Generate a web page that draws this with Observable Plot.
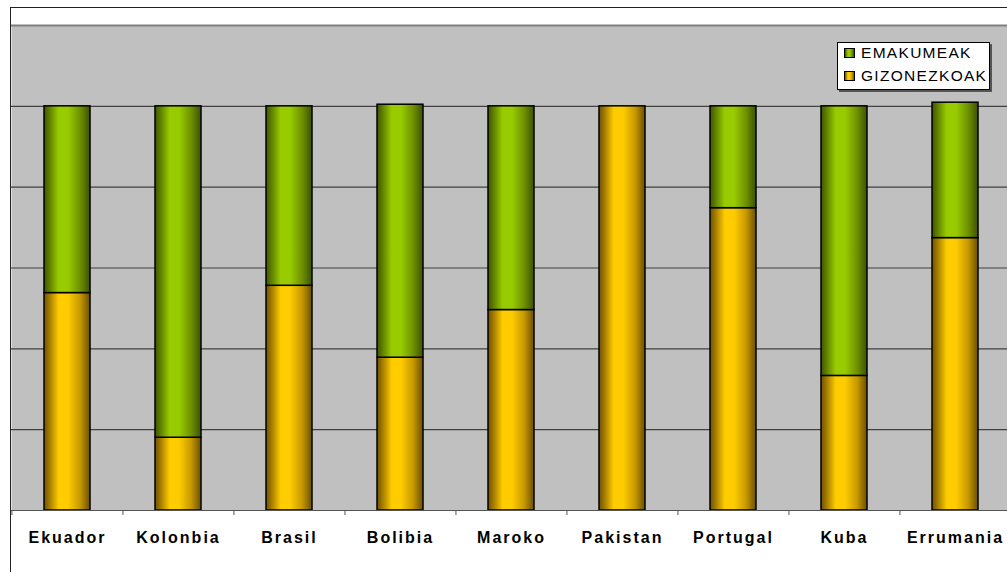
<!DOCTYPE html>
<html><head><meta charset="utf-8">
<script src="https://cdn.jsdelivr.net/npm/d3@7"></script>
<script src="https://cdn.jsdelivr.net/npm/@observablehq/plot@0.6"></script>
<style>
html,body{margin:0;padding:0;background:#fff;overflow:hidden;width:1007px;height:572px}
#wrap{position:relative;width:1007px;height:572px;overflow:hidden}
#chart{position:absolute;left:0;top:0}
#border{position:absolute;left:10px;top:7px;width:1100px;height:700px;border-left:1.5px solid #222;border-top:1.5px solid #222;pointer-events:none}
#legend{position:absolute;left:837px;top:42px;width:151px;height:46px;background:#fff;border:1px solid #000;box-shadow:2px 2px 0 #555;font-family:"Liberation Sans",Arial,sans-serif;font-size:15.5px;letter-spacing:1.3px;color:#000}
#legend .row{position:absolute;left:6px;height:20px;display:flex;align-items:center}
#legend .sw{width:9px;height:8px;border:1px solid #000;margin-right:6px}
</style></head><body>
<div id="wrap"><div id="chart"></div><div id="legend"></div><div id="border"></div></div>
<script>
const categories = ["Ekuador","Kolonbia","Brasil","Bolibia","Maroko","Pakistan","Portugal","Kuba","Errumania"];
const gizonezkoak = [53.8, 18.0, 55.6, 37.8, 49.6, 100, 74.8, 33.3, 67.4];
const emakumeak   = [46.2, 82.0, 44.4, 62.6, 50.4, 0, 25.2, 66.7, 33.5];
const seriesNames = ["GIZONEZKOAK","EMAKUMEAK"];
const legendOrder = ["EMAKUMEAK","GIZONEZKOAK"];
const gridTicks = [20,40,60,80,100];
const yTop = 120;

const seriesColors = {
  GIZONEZKOAK: {id:"gradY", stops:[[0,"#6e5200"],[0.12,"#a37c00"],[0.32,"#ffcc00"],[0.52,"#ffcc00"],[0.78,"#c89a00"],[1,"#6a4f00"]]},
  EMAKUMEAK:   {id:"gradG", stops:[[0,"#3f5400"],[0.12,"#5f8000"],[0.32,"#99cc00"],[0.52,"#99cc00"],[0.78,"#6f9200"],[1,"#3d5200"]]}
};

const rows = [];
categories.forEach((c,i)=>{
  rows.push({country:c, series:"GIZONEZKOAK", value:gizonezkoak[i]});
  rows.push({country:c, series:"EMAKUMEAK", value:emakumeak[i]});
});

const xRange = [11, 1011];
const step = (xRange[1]-xRange[0])/categories.length;

const chart = Plot.plot({
  width: 1007, height: 572,
  marginLeft: 11, marginRight: 0, marginTop: 25, marginBottom: 62,
  style: {fontFamily: '"Liberation Sans", Arial, sans-serif', letterSpacing: "2px", color: "#000", background: "transparent"},
  x: {domain: categories, range: xRange, paddingInner: 0.586, paddingOuter: 0.293, align: 0.5, label: null},
  y: {domain: [0, yTop], axis: null, label: null},
  color: {domain: seriesNames, range: seriesNames.map(s => `url(#${seriesColors[s].id})`)},
  marks: [
    Plot.frame({fill: "#c0c0c0", stroke: null}),
    Plot.ruleY(gridTicks, {stroke: "#404040", strokeWidth: 1.2}),
    Plot.ruleY([yTop], {stroke: "#808080", strokeWidth: 2}),
    Plot.barY(rows, {x: "country", y: "value", fill: "series", order: seriesNames, stroke: "#000", strokeWidth: 1.5}),
    Plot.ruleY([0], {stroke: "#555", strokeWidth: 1.2}),
    Plot.axisX({tickSize: 5, tickFormat: () => "", dx: -step/2, stroke: "#555"}),
    Plot.axisX({tickSize: 0, tickPadding: 21, fontSize: 16, fontWeight: "bold", fill: "#000"})
  ]
});

const defs = d3.select(chart).insert("defs", ":first-child");
seriesNames.forEach(s => {
  const g = defs.append("linearGradient").attr("id", seriesColors[s].id)
    .attr("x1", 0).attr("x2", 1).attr("y1", 0).attr("y2", 0);
  seriesColors[s].stops.forEach(([o,c]) => g.append("stop").attr("offset", o).attr("stop-color", c));
});
document.getElementById("chart").appendChild(chart);

const legend = document.getElementById("legend");
legendOrder.forEach((s, i) => {
  const row = document.createElement("div");
  row.className = "row";
  row.style.top = (0 + i*23) + "px";
  const sw = document.createElement("div");
  sw.className = "sw";
  sw.style.background = "linear-gradient(to right," + seriesColors[s].stops.map(([o,c]) => `${c} ${o*100}%`).join(",") + ")";
  const t = document.createElement("span");
  t.textContent = s;
  row.appendChild(sw); row.appendChild(t);
  legend.appendChild(row);
});
</script>
</body></html>
